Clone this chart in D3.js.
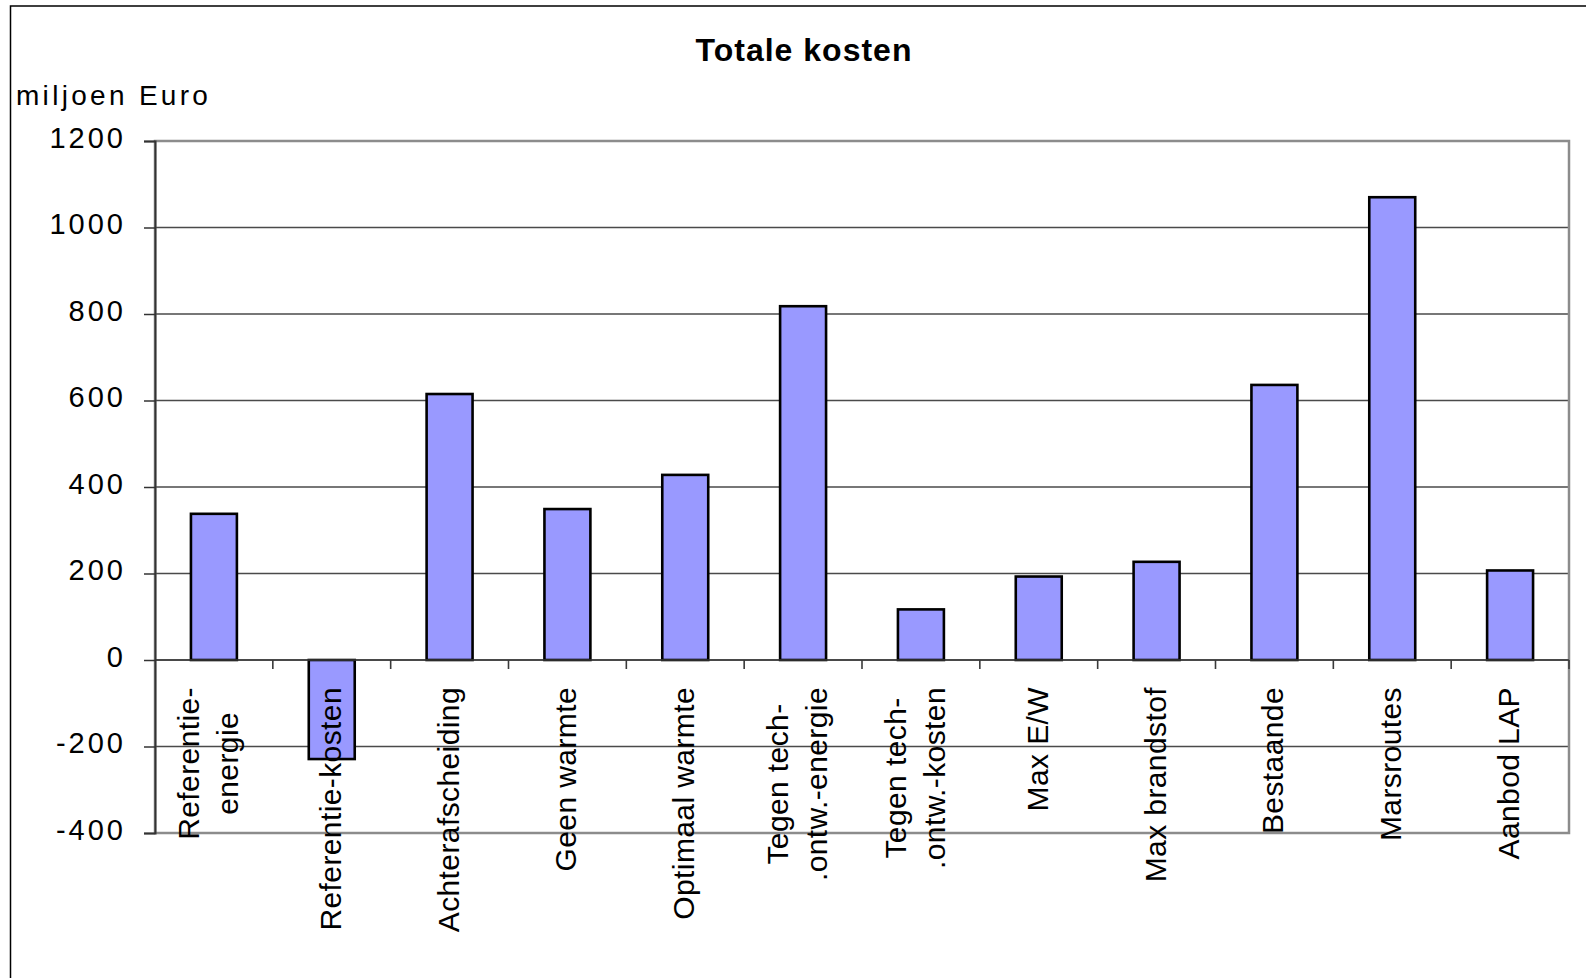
<!DOCTYPE html>
<html>
<head>
<meta charset="utf-8">
<script src="https://cdn.jsdelivr.net/npm/d3@7"></script>
<style>
  body { margin: 0; background: #fff; }
  svg { display: block; }
  text { font-family: "Liberation Sans", Arial, sans-serif; fill: #000; }
</style>
</head>
<body>
<svg id="chart" width="1586" height="978"></svg>
<script>
// Scenario names (line breaks marked with \n), totals in million euro, axis ticks
const categories = [
  "Referentie-\nenergie",
  "Referentie-kosten",
  "Achterafscheiding",
  "Geen warmte",
  "Optimaal warmte",
  "Tegen tech-\n.ontw.-energie",
  "Tegen tech-\n.ontw.-kosten",
  "Max E/W",
  "Max brandstof",
  "Bestaande",
  "Marsroutes",
  "Aanbod LAP"
];
const totals = [338, -229, 615, 349, 428, 818, 117, 193, 227, 636, 1070, 207];
const yTicks = [-400, -200, 0, 200, 400, 600, 800, 1000, 1200];
const titleText = "Totale kosten";
const unitText = "miljoen Euro";

const svg = d3.select("#chart");
const plot = { left: 155, right: 1569, top: 141, bottom: 833 };

const y = d3.scaleLinear().domain([-400, 1200]).range([plot.bottom, plot.top]);
const x = d3.scaleBand()
  .domain(d3.range(categories.length))
  .range([plot.left, plot.right])
  .paddingInner(0.61)
  .paddingOuter(0.305);

// chart frame
svg.append("rect")
  .attr("x", 10.5).attr("y", 6).attr("width", 1600).attr("height", 1000)
  .attr("fill", "none").attr("stroke", "#000").attr("stroke-width", 1.5);

// title and unit
svg.append("text")
  .attr("x", 804).attr("y", 61)
  .attr("text-anchor", "middle")
  .style("font-size", "32px").style("font-weight", "bold").style("letter-spacing", "1px")
  .text(titleText);

svg.append("text")
  .attr("x", 16).attr("y", 105)
  .style("font-size", "28px").style("letter-spacing", "3.3px")
  .text(unitText);

// horizontal gridlines
svg.append("g")
  .selectAll("line")
  .data(yTicks.filter(v => v > -400 && v < 1200))
  .join("line")
  .attr("x1", plot.left).attr("x2", plot.right)
  .attr("y1", d => y(d)).attr("y2", d => y(d))
  .attr("stroke", "#4a4a4a").attr("stroke-width", 1.3);

// plot area border
svg.append("rect")
  .attr("x", plot.left).attr("y", plot.top)
  .attr("width", plot.right - plot.left).attr("height", plot.bottom - plot.top)
  .attr("fill", "none").attr("stroke", "#8c8c8c").attr("stroke-width", 2.5);

// bars
svg.append("g")
  .selectAll("rect")
  .data(totals)
  .join("rect")
  .attr("x", (d, i) => x(i))
  .attr("width", x.bandwidth())
  .attr("y", d => y(Math.max(0, d)))
  .attr("height", d => Math.abs(y(d) - y(0)))
  .attr("fill", "#9999ff")
  .attr("stroke", "#000")
  .attr("stroke-width", 2.6);

// category axis along zero, ticks between categories
const step = x.step();
svg.append("line")
  .attr("x1", plot.left).attr("x2", plot.right)
  .attr("y1", y(0)).attr("y2", y(0))
  .attr("stroke", "#3a3a3a").attr("stroke-width", 1.6);
svg.append("g")
  .selectAll("line")
  .data(d3.range(1, categories.length + 1))
  .join("line")
  .attr("x1", i => plot.left + i * step).attr("x2", i => plot.left + i * step)
  .attr("y1", y(0)).attr("y2", y(0) + 9)
  .attr("stroke", "#3a3a3a").attr("stroke-width", 1.6);

// value axis (plain hyphen for negatives)
const yAxis = svg.append("g")
  .attr("transform", `translate(${plot.left},0)`)
  .call(d3.axisLeft(y).tickValues(yTicks).tickSize(11).tickPadding(18).tickFormat(d => String(d)));
yAxis.select(".domain").attr("stroke", "#333").attr("stroke-width", 2);
yAxis.selectAll(".tick line").attr("stroke", "#333").attr("stroke-width", 1.5);
yAxis.selectAll(".tick text")
  .attr("dy", "0.22em")
  .style("font-size", "29px")
  .style("letter-spacing", "3px")
  .style("font-family", "\"Liberation Sans\", Arial, sans-serif")
  .attr("fill", "#000");

// rotated category labels hanging below the zero axis
const labelTop = 687;
const labelGroups = svg.append("g")
  .selectAll("g")
  .data(categories)
  .join("g")
  .attr("transform", (d, i) => `translate(${x(i) + x.bandwidth() / 2},${labelTop}) rotate(-90)`);

labelGroups.each(function (d) {
  const g = d3.select(this);
  const lines = d.split("\n");
  const offsets = lines.length === 1 ? [9] : [-15, 24];
  const texts = lines.map((ln, k) => g.append("text")
    .attr("y", offsets[k])
    .style("font-size", "30px")
    .style("letter-spacing", "0.4px")
    .text(ln));
  const maxLen = d3.max(texts, t => t.node().getComputedTextLength());
  texts.forEach(t => t.attr("text-anchor", "middle").attr("x", -maxLen / 2));
});
</script>
</body>
</html>
